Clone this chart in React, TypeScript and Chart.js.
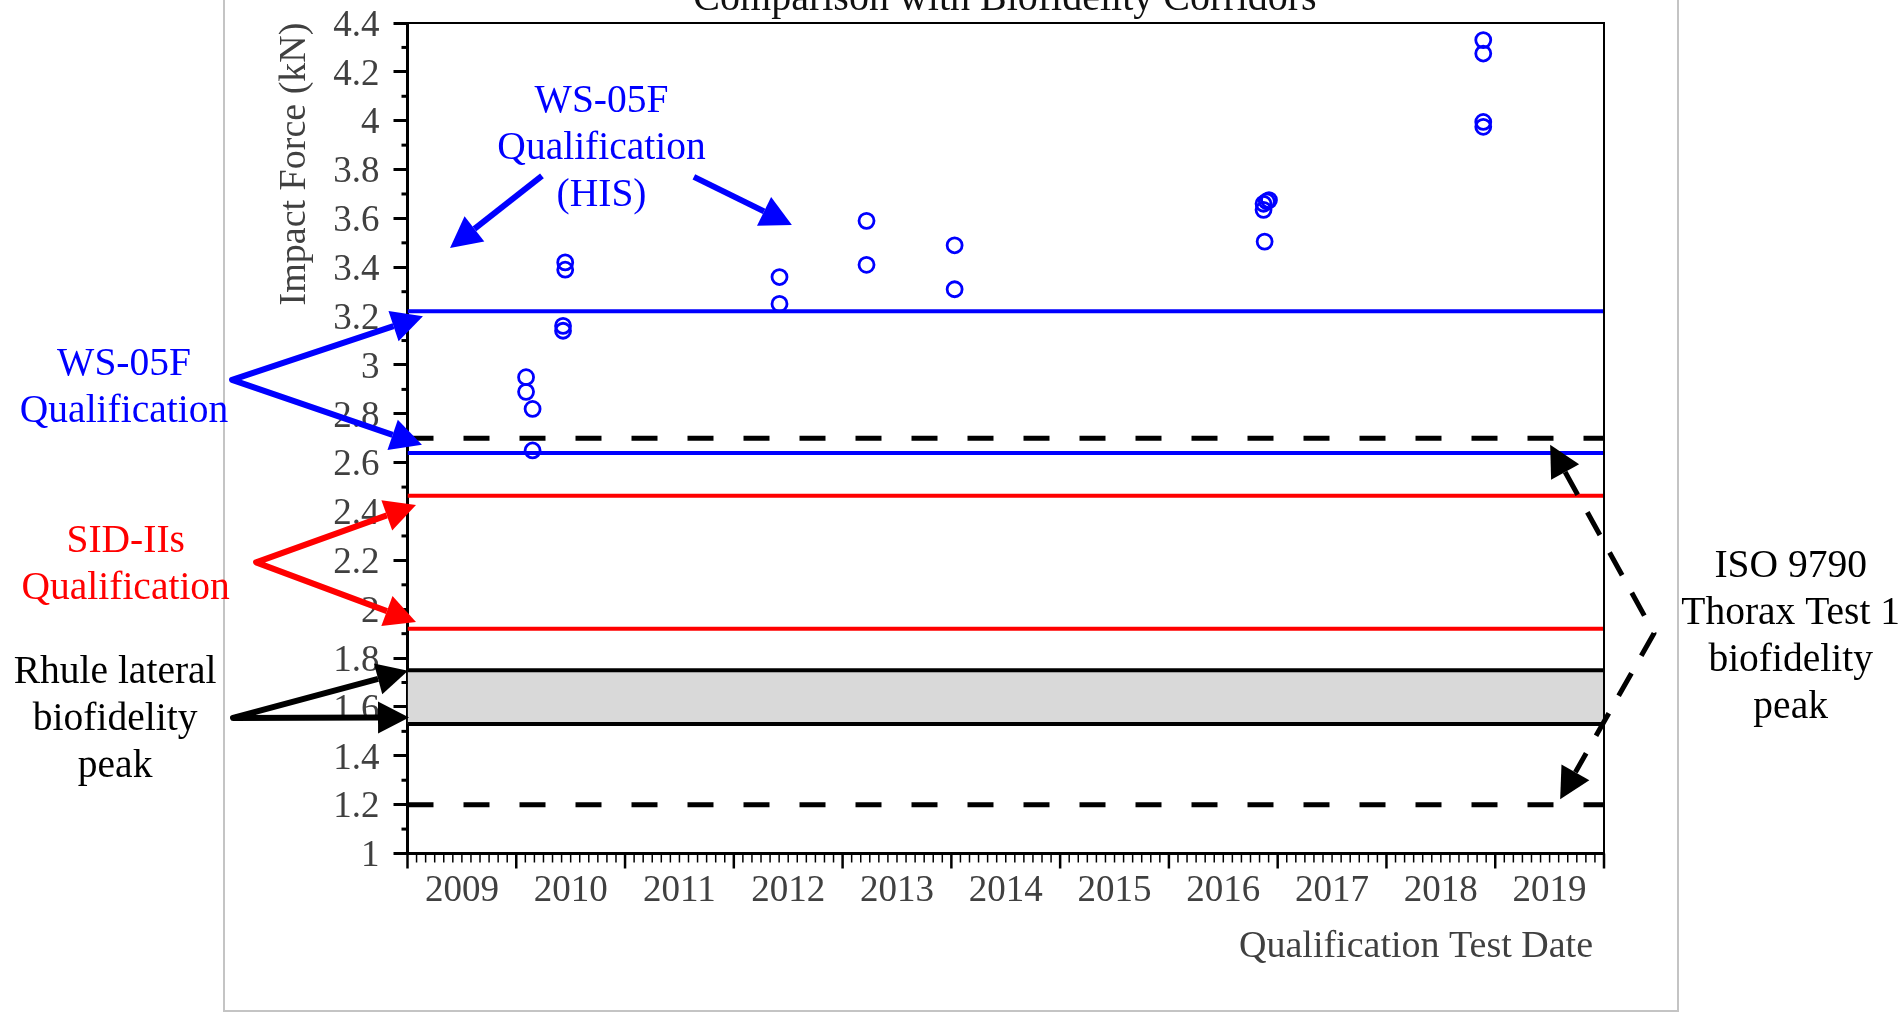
import { useEffect, useRef } from 'react';
import { Chart, registerables } from 'chart.js';

Chart.register(...registerables);

const FONT = "'Liberation Serif', 'Times New Roman', serif";
const WIDTH = 1902;
const HEIGHT = 1013;

// Axis ranges and tick labels
const xRange = [2009, 2020];
const yRange = [1, 4.4];
const yearLabels = ['2009', '2010', '2011', '2012', '2013', '2014', '2015', '2016', '2017', '2018', '2019'];
const yTickValues = [1, 1.2, 1.4, 1.6, 1.8, 2, 2.2, 2.4, 2.6, 2.8, 3, 3.2, 3.4, 3.6, 3.8, 4, 4.2, 4.4];

// WS-05F qualification results (HIS): test date (decimal year) and peak impact force (kN)
const testDates = [
  2010.09, 2010.09, 2010.15, 2010.15,
  2010.45, 2010.45, 2010.43, 2010.43,
  2012.42, 2012.42,
  2013.22, 2013.22,
  2014.03, 2014.03,
  2016.87, 2016.9, 2016.92, 2016.87, 2016.88,
  2018.89, 2018.89, 2018.89, 2018.89,
];
const impactForces = [
  2.95, 2.89, 2.82, 2.65,
  3.42, 3.39, 3.16, 3.14,
  3.36, 3.25,
  3.59, 3.41,
  3.49, 3.31,
  3.66, 3.67, 3.675, 3.635, 3.505,
  4.33, 4.275, 3.995, 3.975,
];

// Corridor bounds (kN)
const ws05fCorridor = [2.64, 3.22];
const sid2sCorridor = [1.92, 2.465];
const rhulePeak = [1.53, 1.75];
const isoPeak = [1.2, 2.7];

// Callout labels and arrows, anchored in data space (year, kN)
type Pt = [number, number];
type Callout = { lines: string[]; color: string; at: Pt };
const callouts: Callout[] = [
  { lines: ['WS-05F', 'Qualification', '(HIS)'], color: '#0000ff', at: [2010.784, 4.036] },
  { lines: ['WS-05F', 'Qualification'], color: '#0000ff', at: [2006.394, 2.959] },
  { lines: ['SID-IIs', 'Qualification'], color: '#ff0000', at: [2006.409, 2.235] },
  { lines: ['Rhule lateral', 'biofidelity', 'peak'], color: '#000000', at: [2006.312, 1.698] },
  { lines: ['ISO 9790', 'Thorax Test 1', 'biofidelity', 'peak'], color: '#000000', at: [2021.716, 2.132] },
];

type ArrowSet = { color: string; dashed: boolean; vertex?: Pt; tail?: Pt; tips: Pt[] };
const arrowSets: ArrowSet[] = [
  { color: '#0000ff', dashed: false, tail: [2010.236, 3.774], tips: [[2009.391, 3.479]] },
  { color: '#0000ff', dashed: false, tail: [2011.633, 3.77], tips: [[2012.534, 3.573]] },
  { color: '#0000ff', dashed: false, vertex: [2007.387, 2.939], tips: [[2009.142, 3.199], [2009.133, 2.673]] },
  { color: '#ff0000', dashed: false, vertex: [2007.608, 2.192], tips: [[2009.078, 2.427], [2009.078, 1.948]] },
  { color: '#000000', dashed: false, vertex: [2007.396, 1.555], tips: [[2009.005, 1.748], [2009.014, 1.557]] },
  { color: '#000000', dashed: true, vertex: [2020.46, 1.902], tips: [[2019.505, 2.673], [2019.597, 1.222]] },
];

const HEAD_LEN = 31;
const HEAD_HALF = 16;

function headBase(from: Pt, to: Pt): Pt {
  const ang = Math.atan2(to[1] - from[1], to[0] - from[0]);
  return [to[0] - HEAD_LEN * Math.cos(ang), to[1] - HEAD_LEN * Math.sin(ang)];
}

function drawHead(ctx: CanvasRenderingContext2D, from: Pt, to: Pt, color: string) {
  const ang = Math.atan2(to[1] - from[1], to[0] - from[0]);
  const [bx, by] = headBase(from, to);
  ctx.fillStyle = color;
  ctx.beginPath();
  ctx.moveTo(to[0], to[1]);
  ctx.lineTo(bx + HEAD_HALF * Math.sin(ang), by - HEAD_HALF * Math.cos(ang));
  ctx.lineTo(bx - HEAD_HALF * Math.sin(ang), by + HEAD_HALF * Math.cos(ang));
  ctx.closePath();
  ctx.fill();
}

const overlayPlugin = {
  id: 'overlay',
  afterDraw(chart: any) {
    const { ctx, chartArea: a, scales } = chart;
    const xs = scales.x;
    const ys = scales.y;
    const toPx = (p: Pt): Pt => [xs.getPixelForValue(p[0]), ys.getPixelForValue(p[1])];

    ctx.save();

    // figure frame
    ctx.strokeStyle = '#c4c4c4';
    ctx.lineWidth = 2;
    ctx.beginPath();
    ctx.moveTo(224, 0);
    ctx.lineTo(224, 1011);
    ctx.lineTo(1678, 1011);
    ctx.lineTo(1678, 0);
    ctx.stroke();

    // top and right borders of the plot box
    ctx.strokeStyle = '#000';
    ctx.lineWidth = 2;
    ctx.beginPath();
    ctx.moveTo(a.left, a.top);
    ctx.lineTo(a.right, a.top);
    ctx.lineTo(a.right, a.bottom);
    ctx.stroke();

    // monthly minor ticks and yearly major ticks on the date axis
    const months = (xRange[1] - xRange[0]) * 12;
    for (let m = 0; m <= months; m++) {
      const major = m % 12 === 0;
      const X = xs.getPixelForValue(xRange[0] + m / 12);
      ctx.lineWidth = major ? 2.5 : 1.5;
      ctx.beginPath();
      ctx.moveTo(X, a.bottom);
      ctx.lineTo(X, a.bottom + (major ? 15 : 9));
      ctx.stroke();
    }

    // minor ticks on the force axis
    ctx.lineWidth = 3;
    for (let i = 0; i < yTickValues.length - 1; i++) {
      const Y = ys.getPixelForValue((yTickValues[i] + yTickValues[i + 1]) / 2);
      ctx.beginPath();
      ctx.moveTo(a.left, Y);
      ctx.lineTo(a.left - 6, Y);
      ctx.stroke();
    }

    // title, partly above the page edge
    ctx.fillStyle = '#111';
    ctx.font = `40px ${FONT}`;
    ctx.textAlign = 'center';
    ctx.textBaseline = 'alphabetic';
    ctx.fillText('Comparison with Biofidelity Corridors', 1005, 10);

    // axis titles
    ctx.fillStyle = '#404040';
    ctx.font = `38px ${FONT}`;
    ctx.textAlign = 'right';
    ctx.fillText('Qualification Test Date', a.right - 11, 957);
    ctx.save();
    ctx.translate(a.left - 103, a.top + 141);
    ctx.rotate(-Math.PI / 2);
    ctx.textAlign = 'center';
    ctx.fillText('Impact Force (kN)', 0, 0);
    ctx.restore();

    // arrows
    ctx.lineJoin = 'round';
    ctx.lineCap = 'butt';
    for (const s of arrowSets) {
      const tips = s.tips.map(toPx);
      const start = toPx((s.vertex ?? s.tail) as Pt);
      ctx.strokeStyle = s.color;
      ctx.lineWidth = s.dashed ? 5 : 6;
      ctx.setLineDash(s.dashed ? [26, 20] : []);
      ctx.beginPath();
      if (tips.length === 2) {
        const b0 = headBase(start, tips[0]);
        const b1 = headBase(start, tips[1]);
        ctx.moveTo(b0[0], b0[1]);
        ctx.lineTo(start[0], start[1]);
        ctx.lineTo(b1[0], b1[1]);
      } else {
        const b = headBase(start, tips[0]);
        ctx.moveTo(start[0], start[1]);
        ctx.lineTo(b[0], b[1]);
      }
      ctx.stroke();
      ctx.setLineDash([]);
      for (const t of tips) drawHead(ctx, start, t, s.color);
    }

    // callout text
    ctx.font = `39.5px ${FONT}`;
    ctx.textAlign = 'center';
    ctx.textBaseline = 'alphabetic';
    for (const c of callouts) {
      const [cx, cy] = toPx(c.at);
      ctx.fillStyle = c.color;
      c.lines.forEach((line, i) => ctx.fillText(line, cx, cy + i * 47));
    }

    ctx.restore();
  },
};

function hLine(value: number, color: string, width: number, dash: number[] = [], extra: any = {}) {
  return {
    type: 'line' as const,
    data: [
      { x: xRange[0], y: value },
      { x: xRange[1], y: value },
    ],
    borderColor: color,
    borderWidth: width,
    borderDash: dash,
    pointRadius: 0,
    pointHoverRadius: 0,
    fill: false,
    order: 1,
    ...extra,
  };
}

export default function App() {
  const canvasRef = useRef<HTMLCanvasElement | null>(null);

  useEffect(() => {
    if (!canvasRef.current) return;
    Chart.defaults.font.family = FONT;

    const points = testDates.map((d, i) => ({ x: d, y: impactForces[i] }));

    const chart = new Chart(canvasRef.current, {
      type: 'scatter',
      data: {
        datasets: [
          {
            type: 'scatter',
            data: points,
            borderColor: '#0000ff',
            backgroundColor: 'rgba(0,0,0,0)',
            borderWidth: 2.8,
            pointRadius: 7.5,
            pointStyle: 'circle',
            order: 0,
          } as any,
          hLine(ws05fCorridor[1], '#0000ff', 4),
          hLine(ws05fCorridor[0], '#0000ff', 4),
          hLine(sid2sCorridor[1], '#ff0000', 4),
          hLine(sid2sCorridor[0], '#ff0000', 4),
          // lower bound listed first so it is drawn over the shaded band
          hLine(rhulePeak[0], '#000000', 4),
          hLine(rhulePeak[1], '#000000', 4, [], { fill: { value: rhulePeak[0] }, backgroundColor: '#d9d9d9' }),
          hLine(isoPeak[1], '#000000', 5, [26, 30]),
          hLine(isoPeak[0], '#000000', 5, [26, 30]),
        ],
      },
      options: {
        responsive: false,
        animation: false,
        devicePixelRatio: 1,
        layout: { padding: { top: 23, right: 298, left: 0, bottom: 0 } },
        plugins: {
          legend: { display: false },
          tooltip: { enabled: false },
          title: { display: false },
        },
        scales: {
          x: {
            type: 'linear',
            min: xRange[0],
            max: xRange[1],
            afterFit: (scale: any) => {
              scale.height = 159.5;
              scale.paddingLeft = 0;
              scale.paddingRight = 0;
            },
            afterBuildTicks: (scale: any) => {
              scale.ticks = yearLabels.map((_, i) => ({ value: xRange[0] + i + 0.5 }));
            },
            grid: { display: false, drawTicks: false },
            border: { display: true, color: '#000', width: 3 },
            ticks: {
              autoSkip: false,
              maxRotation: 0,
              padding: 16,
              color: '#404040',
              font: { size: 37, family: FONT },
              callback: (v: any) => yearLabels[Math.floor(Number(v) - xRange[0])],
            },
          },
          y: {
            type: 'linear',
            min: yRange[0],
            max: yRange[1],
            afterFit: (scale: any) => {
              scale.width = 407.5;
              scale.paddingTop = 0;
              scale.paddingBottom = 0;
            },
            afterBuildTicks: (scale: any) => {
              scale.ticks = yTickValues.map((v) => ({ value: v }));
            },
            grid: {
              drawOnChartArea: false,
              drawTicks: true,
              tickLength: 14,
              lineWidth: 3,
              color: '#000',
            },
            border: { display: true, color: '#000', width: 3 },
            ticks: {
              autoSkip: false,
              padding: 14,
              labelOffset: 3,
              color: '#404040',
              font: { size: 37, family: FONT },
              callback: (v: any) => String(Math.round(Number(v) * 10) / 10),
            },
          },
        },
      },
      plugins: [overlayPlugin],
    } as any);

    return () => chart.destroy();
  }, []);

  return (
    <div style={{ position: 'fixed', left: 0, top: 0, width: WIDTH, height: HEIGHT, background: '#fff' }}>
      <canvas ref={canvasRef} width={WIDTH} height={HEIGHT} style={{ display: 'block', width: WIDTH, height: HEIGHT }} />
    </div>
  );
}
